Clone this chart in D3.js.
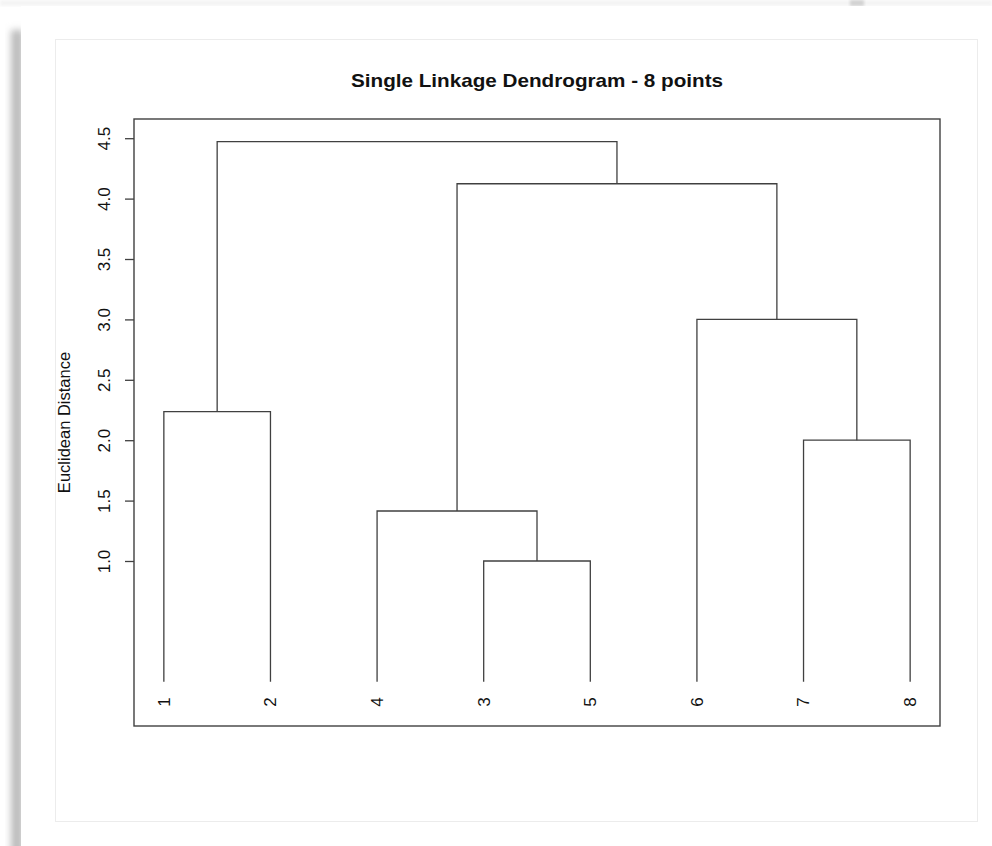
<!DOCTYPE html>
<html>
<head>
<meta charset="utf-8">
<script src="https://cdn.jsdelivr.net/npm/d3@7"></script>
<style>
  html, body { margin: 0; padding: 0; background: #fff; }
  svg { display: block; }
  text { font-family: "Liberation Sans", Arial, Helvetica, sans-serif; fill: #111; }
</style>
</head>
<body>
<svg id="chart" width="992" height="846"></svg>
<script>
// Leaf labels in the left-to-right order they are drawn
const leafOrder = [1, 2, 4, 3, 5, 6, 7, 8];
// hclust-style merge table: negative = leaf id, positive = earlier merge step (1-based)
const mergeLeft   = [-3, -4, -7, -1, -6, 2, 4];
const mergeRight  = [-5,  1, -8, -2,  3, 5, 6];
const mergeHeight = [1.0, 1.414, 2.0, 2.236, 3.0, 4.123, 4.472];
// y-axis tick values
const yTicks = [1.0, 1.5, 2.0, 2.5, 3.0, 3.5, 4.0, 4.5];

const titleText = "Single Linkage Dendrogram - 8 points";
const yLabel = "Euclidean Distance";

const svg = d3.select("#chart");
const defs = svg.append("defs");

// --- card backdrop with soft drop shadow ---
defs.append("filter").attr("id", "soft").attr("x", "-50%").attr("y", "-50%")
  .attr("width", "200%").attr("height", "200%")
  .append("feGaussianBlur").attr("stdDeviation", 3.5);
defs.append("filter").attr("id", "soft2")
  .append("feGaussianBlur").attr("stdDeviation", 1.5);

svg.append("rect").attr("x", 0).attr("y", 0).attr("width", 992).attr("height", 6)
  .attr("fill", "#f4f4f4").attr("filter", "url(#soft2)");
svg.append("rect").attr("x", 850).attr("y", 0).attr("width", 14).attr("height", 6)
  .attr("fill", "#d2d2d2").attr("filter", "url(#soft2)");
svg.append("rect").attr("x", 11).attr("y", 30).attr("width", 12).attr("height", 900)
  .attr("fill", "#bcbcbc").attr("filter", "url(#soft)");
svg.append("rect").attr("x", 21).attr("y", 6).attr("width", 980).attr("height", 850)
  .attr("fill", "#fff");
svg.append("rect").attr("x", 55.5).attr("y", 39.5).attr("width", 922).attr("height", 782)
  .attr("fill", "none").attr("stroke", "#ececec").attr("stroke-width", 1);

// --- plot region ---
const box = { left: 134, right: 940, top: 119, bottom: 726 };
const x = d3.scaleLinear().domain([0.72, 8.28]).range([box.left, box.right]);
const y = d3.scaleLinear().domain([-0.366, 4.659]).range([box.bottom, box.top]);

const lineColor = "#404040";

// compute node positions from the merge table
const nodeX = [], nodeH = [];
function childPos(id) {
  if (id < 0) return { x: leafOrder.indexOf(-id) + 1, h: 0 };
  return { x: nodeX[id - 1], h: nodeH[id - 1] };
}
const segments = [];
mergeHeight.forEach((h, i) => {
  const a = childPos(mergeLeft[i]);
  const b = childPos(mergeRight[i]);
  nodeX[i] = (a.x + b.x) / 2;
  nodeH[i] = h;
  segments.push([[a.x, a.h], [a.x, h], [b.x, h], [b.x, b.h]]);
});

const g = svg.append("g");
g.selectAll("path.branch").data(segments).join("path")
  .attr("class", "branch")
  .attr("d", d => d3.line().x(p => x(p[0])).y(p => y(p[1]))(d))
  .attr("fill", "none").attr("stroke", lineColor).attr("stroke-width", 1.3);

// plot frame
svg.append("rect").attr("x", box.left).attr("y", box.top)
  .attr("width", box.right - box.left).attr("height", box.bottom - box.top)
  .attr("fill", "none").attr("stroke", lineColor).attr("stroke-width", 1.4);

// y axis: ticks and rotated labels
const yAxis = d3.axisLeft(y).tickValues(yTicks).tickSize(9).tickFormat(d3.format(".1f"));
const ax = svg.append("g").attr("transform", `translate(${box.left},0)`).call(yAxis);
ax.select(".domain").remove();
ax.selectAll(".tick line").attr("stroke", lineColor).attr("stroke-width", 1.3);
ax.selectAll(".tick text")
  .attr("x", 0).attr("y", 0).attr("dy", "0.35em")
  .attr("text-anchor", "middle")
  .attr("transform", "translate(-30,0) rotate(-90)")
  .style("font-size", "17px")
  .style("font-family", "'Liberation Sans', Arial, sans-serif")
  .attr("fill", "#111");

// leaf labels
svg.selectAll("text.leaf").data(leafOrder).join("text")
  .attr("class", "leaf")
  .attr("transform", (d, i) => `translate(${x(i + 1)},702) rotate(-90)`)
  .attr("text-anchor", "middle").attr("dy", "0.35em")
  .style("font-size", "17px")
  .text(d => d);

// title
svg.append("text")
  .attr("x", (box.left + box.right) / 2).attr("y", 87)
  .attr("text-anchor", "middle")
  .attr("textLength", 372).attr("lengthAdjust", "spacingAndGlyphs")
  .style("font-size", "19px").style("font-weight", "bold")
  .text(titleText);

// y axis title
svg.append("text")
  .attr("transform", `translate(64,${(box.top + box.bottom) / 2}) rotate(-90)`)
  .attr("text-anchor", "middle").attr("dy", "0.35em")
  .style("font-size", "16.5px")
  .text(yLabel);
</script>
</body>
</html>
